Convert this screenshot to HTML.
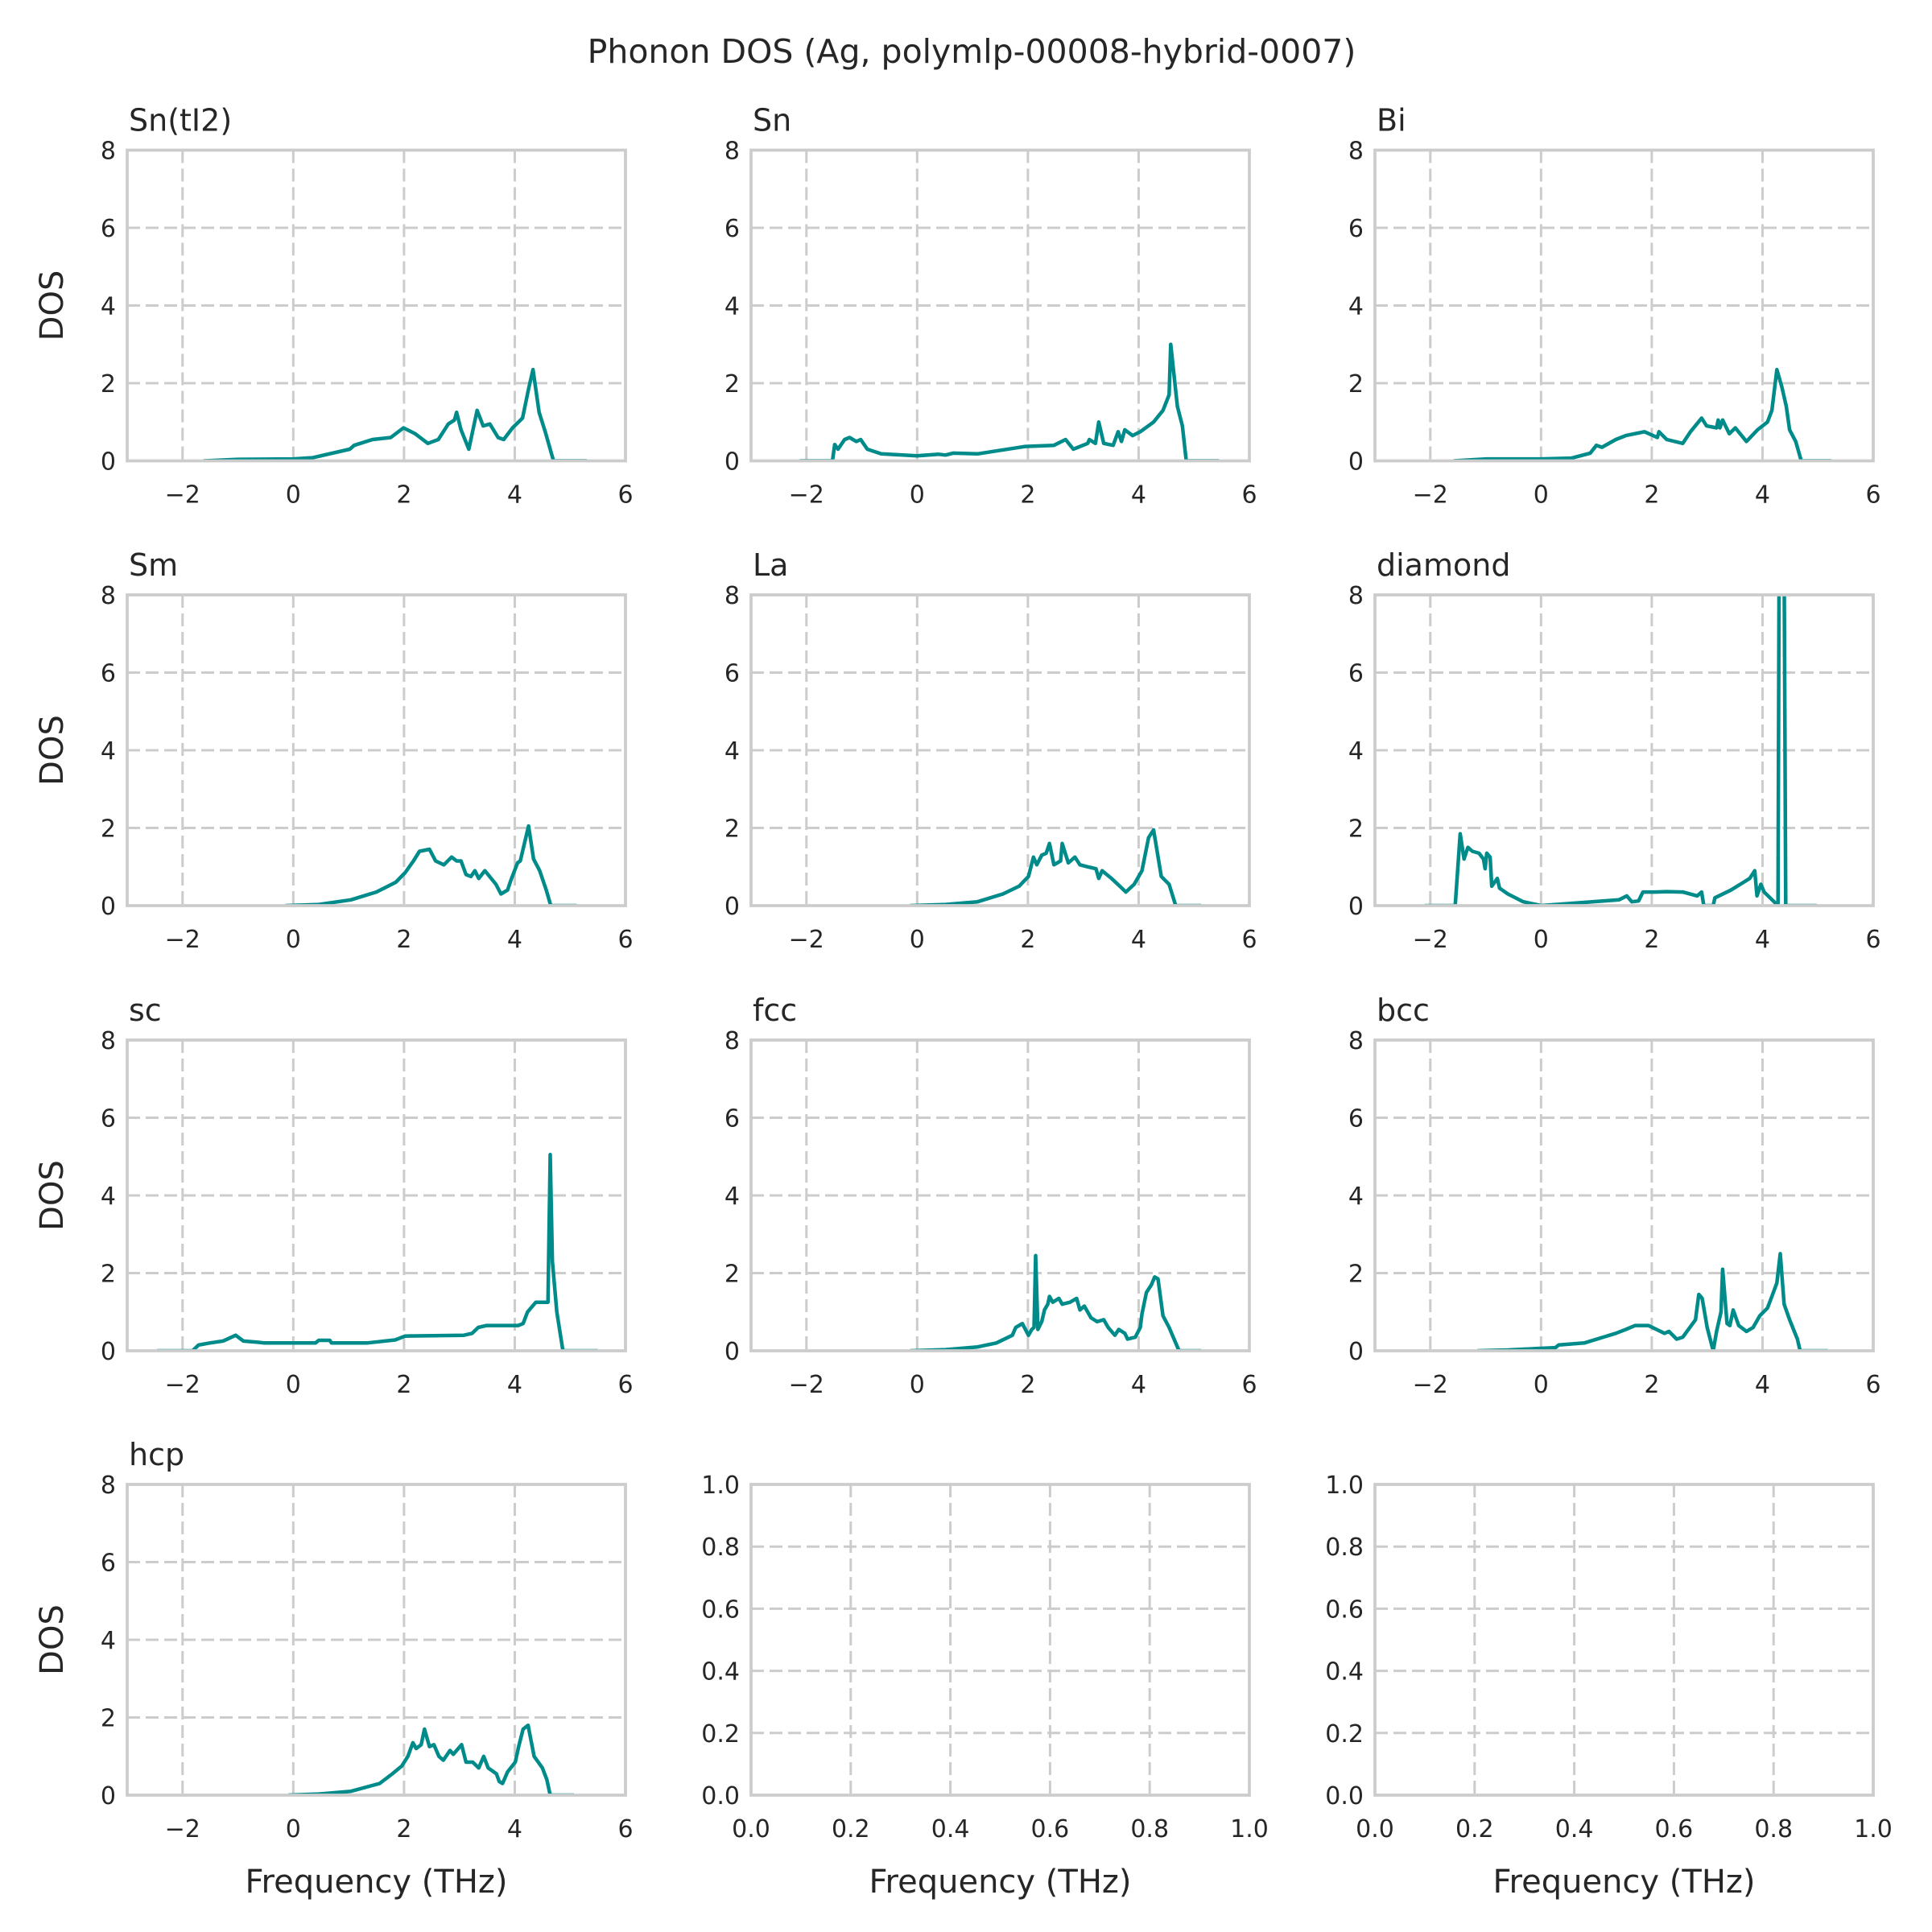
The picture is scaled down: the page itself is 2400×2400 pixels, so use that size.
<!DOCTYPE html>
<html><head><meta charset="utf-8"><style>
html,body{margin:0;padding:0;background:#fff;}
svg{display:block;font-family:"DejaVu Sans","Liberation Sans",sans-serif;}
</style></head><body>
<svg id="fig" width="2400" height="2400" viewBox="0 0 2400 2400" xmlns="http://www.w3.org/2000/svg">
<rect width="2400" height="2400" fill="#fff"/>
<text x="1207" y="78" font-size="41" fill="#262626" text-anchor="middle">Phonon DOS (Ag, polymlp-00008-hybrid-0007)</text>
</svg>
<script>
const panelTitles = ["Sn(tI2)","Sn","Bi","Sm","La","diamond","sc","fcc","bcc","hcp"];
const xTicks = [-2,0,2,4,6];
const yTicks = [0,2,4,6,8];
const emptyTicks = [0,0.2,0.4,0.6,0.8,1.0];
const emptyTickLabels = ["0.0","0.2","0.4","0.6","0.8","1.0"];

const snTI2X = [-1.62,-1.0,0,0.35,1.02,1.1,1.43,1.76,1.99,2.2,2.43,2.62,2.8,2.91,2.95,3.03,3.17,3.23,3.32,3.43,3.55,3.7,3.8,3.96,4.14,4.25,4.33,4.44,4.55,4.7,5.3];
const snTI2Y = [0,0.04,0.05,0.08,0.3,0.4,0.55,0.6,0.85,0.7,0.45,0.55,0.95,1.05,1.25,0.8,0.3,0.7,1.3,0.9,0.95,0.6,0.55,0.85,1.1,1.85,2.35,1.25,0.75,0,0];
const snX = [-2.12,-1.53,-1.49,-1.43,-1.31,-1.22,-1.1,-1.02,-0.9,-0.65,0,0.39,0.51,0.65,1.09,1.95,2.47,2.68,2.82,3.08,3.11,3.22,3.28,3.37,3.54,3.63,3.69,3.75,3.89,4.03,4.27,4.44,4.55,4.58,4.7,4.79,4.86,5.45];
const snY = [0,0,0.42,0.3,0.55,0.6,0.5,0.55,0.3,0.18,0.13,0.17,0.15,0.2,0.18,0.37,0.4,0.55,0.3,0.45,0.55,0.45,1.0,0.45,0.4,0.75,0.5,0.8,0.65,0.75,1.0,1.3,1.7,3.0,1.4,0.9,0,0];
const biX = [-1.58,-0.98,0,0.55,0.89,1.0,1.1,1.35,1.53,1.87,2.1,2.13,2.27,2.56,2.7,2.9,2.99,3.17,3.2,3.23,3.28,3.4,3.51,3.71,3.91,4.09,4.17,4.26,4.35,4.43,4.49,4.6,4.7,5.24];
const biY = [0,0.05,0.05,0.07,0.2,0.4,0.35,0.55,0.65,0.75,0.6,0.75,0.55,0.45,0.75,1.1,0.9,0.85,1.05,0.85,1.05,0.7,0.85,0.5,0.8,1.0,1.3,2.35,1.9,1.4,0.8,0.5,0,0];
const smX = [-0.14,0.46,1.04,1.5,1.85,2.02,2.17,2.28,2.46,2.57,2.72,2.86,2.95,3.03,3.12,3.21,3.28,3.35,3.46,3.66,3.75,3.87,3.93,4.05,4.1,4.25,4.34,4.45,4.57,4.65,5.12];
const smY = [0,0.03,0.15,0.35,0.6,0.85,1.15,1.4,1.45,1.15,1.05,1.25,1.15,1.15,0.8,0.75,0.9,0.7,0.9,0.55,0.3,0.4,0.65,1.1,1.15,2.05,1.2,0.9,0.4,0,0];
const laX = [-0.13,0.51,1.09,1.55,1.84,2.01,2.1,2.16,2.25,2.33,2.39,2.47,2.59,2.62,2.73,2.85,2.94,3.08,3.23,3.28,3.34,3.51,3.66,3.77,3.92,4.06,4.18,4.27,4.41,4.55,4.67,5.13];
const laY = [0,0.03,0.1,0.3,0.5,0.75,1.25,1.05,1.3,1.35,1.6,1.05,1.15,1.6,1.1,1.25,1.05,1.0,0.95,0.7,0.9,0.7,0.5,0.35,0.55,0.9,1.75,1.95,0.75,0.55,0,0];
const diamondX = [-2.1,-1.55,-1.46,-1.39,-1.32,-1.24,-1.12,-1.04,-1.01,-0.98,-0.92,-0.89,-0.79,-0.75,-0.6,-0.32,0,1.41,1.55,1.64,1.76,1.84,2.06,2.27,2.56,2.82,2.9,2.94,3.11,3.14,3.43,3.6,3.77,3.86,3.9,3.97,4.03,4.28,4.3,4.39,4.42,4.98];
const diamondY = [0,0,1.85,1.2,1.5,1.4,1.35,1.2,0.95,1.35,1.25,0.5,0.7,0.45,0.3,0.1,0.0,0.15,0.25,0.1,0.12,0.35,0.35,0.36,0.35,0.25,0.35,0,0,0.2,0.4,0.55,0.7,0.9,0.25,0.55,0.35,0,9,9,0,0];
const scX = [-2.46,-1.82,-1.71,-1.51,-1.27,-1.04,-0.9,-0.64,-0.52,0.4,0.46,0.66,0.69,1.33,1.84,2.02,3.08,3.23,3.34,3.49,4.06,4.15,4.23,4.38,4.6,4.64,4.68,4.76,4.87,5.5];
const scY = [0,0,0.15,0.2,0.25,0.4,0.25,0.22,0.2,0.2,0.27,0.27,0.2,0.2,0.28,0.38,0.4,0.45,0.6,0.65,0.65,0.7,1.0,1.25,1.25,5.05,2.3,1.0,0,0];
const fccX = [-0.13,0.51,1.09,1.43,1.72,1.78,1.9,2.01,2.07,2.11,2.14,2.18,2.25,2.3,2.36,2.39,2.45,2.56,2.62,2.76,2.88,2.94,3.02,3.14,3.25,3.37,3.45,3.57,3.64,3.75,3.8,3.94,4.03,4.06,4.14,4.23,4.29,4.35,4.44,4.55,4.67,4.73,5.13];
const fccY = [0,0.03,0.1,0.2,0.4,0.6,0.7,0.4,0.55,0.6,2.45,0.55,0.75,1.05,1.2,1.4,1.25,1.35,1.2,1.25,1.35,1.05,1.15,0.85,0.75,0.8,0.6,0.4,0.55,0.45,0.3,0.35,0.6,0.95,1.5,1.7,1.9,1.85,0.9,0.6,0.2,0,0];
const bccX = [-1.15,-0.6,0.26,0.32,0.78,1.12,1.35,1.53,1.7,1.94,2.23,2.31,2.45,2.56,2.79,2.85,2.91,3.0,3.11,3.17,3.25,3.28,3.36,3.41,3.47,3.57,3.71,3.83,3.95,4.09,4.17,4.26,4.32,4.39,4.49,4.63,4.68,5.18];
const bccY = [0,0.02,0.08,0.15,0.2,0.35,0.45,0.55,0.65,0.65,0.45,0.5,0.3,0.35,0.8,1.45,1.35,0.6,0,0.5,1.0,2.1,0.7,0.65,1.05,0.65,0.5,0.6,0.9,1.1,1.4,1.75,2.5,1.2,0.8,0.3,0,0];
const hcpX = [-0.09,0.46,1.04,1.56,1.79,1.96,2.07,2.16,2.22,2.31,2.37,2.46,2.54,2.63,2.71,2.83,2.89,2.95,3.04,3.12,3.24,3.35,3.44,3.52,3.67,3.72,3.78,3.87,4.01,4.07,4.15,4.24,4.35,4.5,4.58,4.64,5.07];
const hcpY = [0,0.03,0.1,0.3,0.55,0.75,1.0,1.35,1.2,1.3,1.7,1.25,1.3,1.0,0.9,1.15,1.05,1.15,1.3,0.85,0.85,0.7,1.0,0.7,0.55,0.35,0.3,0.6,0.85,1.25,1.7,1.8,1.0,0.7,0.4,0,0];

const seriesX = [snTI2X,snX,biX,smX,laX,diamondX,scX,fccX,bccX,hcpX];
const seriesY = [snTI2Y,snY,biY,smY,laY,diamondY,scY,fccY,bccY,hcpY];

const NS = "http://www.w3.org/2000/svg";
const svg = document.getElementById("fig");
const colLeft = [158, 933, 1708];
const rowTop = [186.5, 739, 1292, 1844];
const W = 619, H = 386;
function mk(tag, attrs, parent){ const e = document.createElementNS(NS, tag); for (const k in attrs) e.setAttribute(k, attrs[k]); (parent||svg).appendChild(e); return e; }

function drawPanel(idx, empty){
  const r = Math.floor(idx/3), c = idx%3;
  const L = colLeft[c], T = rowTop[r];
  const g = mk("g", {});
  
  
  const x0 = empty ? 0 : -3, x1 = empty ? 1 : 6, y0 = 0, y1 = empty ? 1 : 8;
  const sx = v => L + (v - x0) / (x1 - x0) * W;
  const sy = v => T + H - (v - y0) / (y1 - y0) * H;
  const xt = empty ? emptyTicks : xTicks, yt = empty ? emptyTicks : yTicks;
  const xl = empty ? emptyTickLabels : xTicks.map(v => v < 0 ? "\u2212" + Math.abs(v) : String(v));
  const yl = empty ? emptyTickLabels : yTicks.map(String);
  xt.forEach(v => { const ln = mk("line", {x1:sx(v), x2:sx(v), y1:T, y2:T+H, stroke:"#cccccc", "stroke-width":3, "stroke-dasharray":"16,7"}, g);
    
     });
  yt.forEach(v => { const ln = mk("line", {x1:L, x2:L+W, y1:sy(v), y2:sy(v), stroke:"#cccccc", "stroke-width":3, "stroke-dasharray":"16,7"}, g);
    
     });
  if (!empty) {
    const cid = "clip" + idx;
    const cp = mk("clipPath", {id: cid}, g);
    mk("rect", {x:L, y:T, width:W, height:H}, cp);
    const xs = seriesX[idx], ys = seriesY[idx];
    let d = "";
    for (let i = 0; i < xs.length; i++) d += (i ? "L" : "M") + sx(xs[i]).toFixed(1) + "," + sy(ys[i]).toFixed(1);
    const p = mk("path", {d: d, fill:"none", stroke:"#008b8b", "stroke-width":4.5, "stroke-linejoin":"round", "clip-path":"url(#"+cid+")"}, g);
    
    
    const t = mk("text", {x:L+2, y:T-24, "font-size":38, fill:"#262626"}, g);
    t.textContent = panelTitles[idx];
    
    
  }
  const sp = mk("rect", {x:L, y:T, width:W, height:H, fill:"none", stroke:"#cccccc", "stroke-width":3.75}, g);
  
  
  xt.forEach((v,i) => { const t = mk("text", {x:sx(v), y:T+H+52, "font-size":30, fill:"#262626", "text-anchor":"middle"}, g);
    t.textContent = xl[i];
    
     });
  yt.forEach((v,i) => { const t = mk("text", {x:L-14, y:sy(v)+11, "font-size":30, fill:"#262626", "text-anchor":"end"}, g);
    t.textContent = yl[i];
    
     });
  if (c === 0) {
    const t = mk("text", {x:0, y:0, "font-size":40, fill:"#262626", "text-anchor":"middle", transform:"translate(78," + (T+H/2) + ") rotate(-90)"}, g);
    t.textContent = "DOS";
    
    
  }
  if (r === 3) {
    const t = mk("text", {x:L+W/2, y:2351, "font-size":40, fill:"#262626", "text-anchor":"middle"}, g);
    t.textContent = "Frequency (THz)";
    
    
  }
}
for (let i = 0; i < 10; i++) drawPanel(i, false);
drawPanel(10, true);
drawPanel(11, true);
</script>
</body></html>
